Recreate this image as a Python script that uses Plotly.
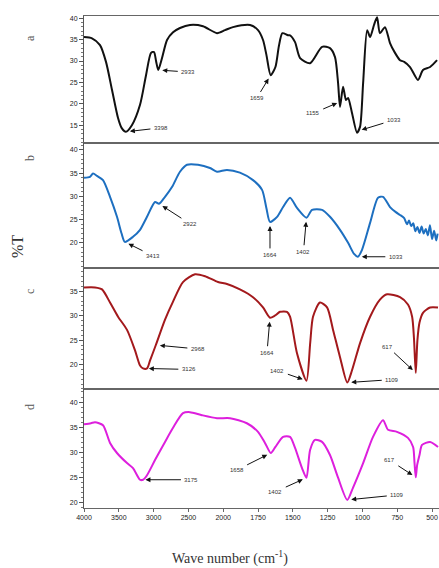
import numpy as np
import plotly.graph_objects as go
from plotly.subplots import make_subplots

# ---- FTIR spectra: wavenumber (cm-1) and transmittance (%T) ----
wn_a = [4000, 3885, 3770, 3684, 3598, 3511, 3460, 3398, 3310, 3195, 3109, 3037, 2994, 2965,
        2933, 2879, 2807, 2721, 2621, 2477, 2290, 2089, 1987, 1930, 1807, 1750, 1714, 1690,
        1659, 1625, 1600, 1575, 1535, 1520, 1484, 1448, 1376, 1290, 1233, 1197, 1175, 1161,
        1139, 1118, 1103, 1075, 1039, 1017, 995, 966, 945, 917, 895, 874, 838, 802, 766, 730,
        700, 658, 601, 565, 514, 464]
t_a = [35.6, 35.3, 33.7, 29.8, 23.3, 16.7, 14.4, 13.5, 15.1, 19.8, 26.7, 31.9, 32.1, 30.0,
       27.9, 30.7, 34.9, 36.7, 37.7, 38.4, 38.1, 36.5, 37.2, 37.9, 38.4, 37.2, 34.9, 31.5,
       26.7, 28.6, 33.5, 36.5, 36.0, 36.0, 34.4, 30.7, 29.5, 33.3, 33.0, 30.9, 24.9, 19.3,
       24.0, 20.9, 21.4, 17.9, 13.3, 14.7, 24.9, 37.2, 35.6, 38.4, 40.2, 36.5, 37.9, 34.2, 31.9, 30.2,
       29.8, 28.6, 25.6, 27.9, 28.6, 30.2]

wn_b = [4000, 3914, 3870, 3813, 3727, 3626, 3526, 3460, 3413, 3296, 3195, 3095, 2980, 2922,
        2836, 2736, 2621, 2520, 2362, 2190, 2089, 1973, 1880, 1786, 1721, 1690, 1664, 1613,
        1570, 1520, 1470, 1402, 1362, 1290, 1233, 1161, 1103, 1060, 1033, 1003, 945, 888, 852,
        802, 760, 730, 700, 680, 665, 650, 635, 620, 605, 590, 575, 560, 545, 530, 515, 500,
        485, 470, 460]
t_b = [34.0, 34.2, 34.9, 34.4, 33.5, 29.9, 25.6, 22.0, 20.2, 21.3, 22.8, 25.6, 28.8, 28.4,
       29.9, 32.0, 35.3, 36.8, 36.8, 36.1, 35.3, 35.7, 35.1, 33.5, 31.4, 27.5, 24.5, 25.6,
       27.7, 29.7, 27.5, 25.4, 27.1, 27.1, 25.6, 22.8, 20.0, 17.6, 17.0, 18.5, 24.3, 29.7, 29.9,
       27.7, 26.6, 26.0, 25.3, 24.0, 24.8, 23.6, 24.2, 22.5, 23.4, 22.1, 23.5, 22.0, 23.0, 21.6, 23.8, 20.8,
       22.6, 20.5, 22.0]

wn_c = [4000, 3842, 3741, 3626, 3511, 3382, 3267, 3195, 3152, 3095, 3052, 2968, 2836, 2721,
        2578, 2405, 2261, 2075, 1973, 1880, 1786, 1714, 1664, 1630, 1592, 1542, 1520, 1470,
        1402, 1375, 1355, 1305, 1254, 1211, 1161, 1109, 1075, 1017, 945, 874, 823, 730, 673,
        643, 630, 617, 605, 590, 565, 514, 457]
t_c = [35.8, 35.8, 35.4, 32.7, 29.8, 27.1, 22.9, 19.8, 19.2, 19.2, 20.8, 24.0, 29.2, 32.9,
       36.9, 38.5, 38.1, 36.9, 36.5, 35.4, 33.8, 31.7, 29.6, 30.0, 30.8, 30.8, 29.8, 22.3,
       16.7, 24.5, 29.8, 32.7, 31.7, 27.1, 21.5, 16.3, 18.8, 24.4, 29.8, 33.3, 34.4, 33.8, 32.3,
       29.8, 25.5, 18.3, 25.0, 28.6, 30.6, 31.7, 31.7]

wn_d = [4000, 3900, 3842, 3727, 3626, 3526, 3382, 3296, 3195, 3152, 3095, 2980, 2836, 2721,
        2578, 2477, 2305, 2089, 1951, 1830, 1750, 1700, 1658, 1625, 1570, 1520, 1484, 1434,
        1402, 1376, 1341, 1290, 1233, 1175, 1109, 1068, 995, 924, 852, 816, 752, 673, 636,
        626, 617, 607, 590, 572, 514, 457]
t_d = [35.6, 35.8, 36.0, 35.4, 31.9, 29.9, 27.9, 26.9, 24.6, 24.6, 25.5, 28.5, 32.1, 34.9,
       37.8, 38.0, 37.4, 36.8, 36.8, 35.8, 34.1, 31.9, 29.9, 31.1, 33.1, 33.1, 30.9, 26.9,
       25.0, 30.5, 32.5, 32.1, 29.5, 25.0, 20.6, 23.0, 27.9, 33.1, 36.4, 34.5, 34.1, 32.9, 31.1,
       28.0, 25.1, 27.5, 29.5, 31.5, 32.1, 31.1]

# marked band positions (cm-1) per spectrum
peaks_a = [3398, 2933, 1659, 1155, 1033]
peaks_b = [3413, 2922, 1664, 1402, 1033]
peaks_c = [3126, 2968, 1664, 1402, 1109, 617]
peaks_d = [3175, 1658, 1402, 1109, 617]

tick_wn = [4000, 3500, 3000, 2500, 2000, 1750, 1500, 1250, 1000, 750, 500]
y_ticks = [[15, 20, 25, 30, 35, 40], [20, 25, 30, 35, 40], [20, 25, 30, 35], [20, 25, 30, 35, 40]]
panel_names = ["a", "b", "c", "d"]


def axis_pos(w):
    """Split wavenumber scale: 500 cm-1 per division above 2000, 250 below."""
    w = np.asarray(w, dtype=float)
    return np.where(w >= 2000, (4000 - w) / 500.0, 4.0 + (2000 - w) / 250.0)


# label offsets (px) of each band label relative to its arrow head
label_offsets = [
    [(35, -4), (30, 2), (-14, 23), (-28, 12), (36, -11)],
    [(28, 14), (31, 20), (0, 33), (-3, 34), (38, 0)],
    [(44, 1), (42, 4), (-3, 35), (-29, -10), (45, -3), (-28, -26)],
    [(50, 0), (-34, 17), (-31, 14), (50, -5), (-26, -17)],
]

spectra = [(wn_a, t_a, "#111111"), (wn_b, t_b, "#1d6fc0"),
           (wn_c, t_c, "#a3191c"), (wn_d, t_d, "#dd1fdd")]
peak_sets = [peaks_a, peaks_b, peaks_c, peaks_d]
y_ranges = [[10.9, 40.5], [14.6, 41.5], [15.0, 39.8], [19.0, 42.6]]
domains = [[0.742, 1.0], [0.488, 0.742], [0.242, 0.488], [0.0, 0.242]]

fig = make_subplots(rows=4, cols=1, shared_xaxes=True, vertical_spacing=0)

tick_font = dict(family="Liberation Sans", size=7, color="#222222")

for i, (wn, tr, color) in enumerate(spectra):
    row = i + 1
    fig.add_trace(go.Scatter(x=axis_pos(wn), y=tr, mode="lines",
                             line=dict(color=color, width=2, shape="spline", smoothing=0.7),
                             showlegend=False, hoverinfo="skip"), row=row, col=1)
    yname = "yaxis" if i == 0 else f"yaxis{row}"
    xname = "xaxis" if i == 0 else f"xaxis{row}"
    fig.layout[yname].update(domain=domains[i], range=y_ranges[i],
                             tickvals=y_ticks[i], ticktext=[str(v) for v in y_ticks[i]],
                             showline=True, linecolor="#555555", linewidth=1,
                             ticks="outside", ticklen=4, tickcolor="#555555",
                             minor=dict(ticks="outside", dtick=1, ticklen=2, tickcolor="#777777"),
                             showgrid=False, zeroline=False, tickfont=tick_font)
    fig.layout[xname].update(range=[0, 10.2], showline=True, linecolor="#666666",
                             linewidth=1, mirror=True, showgrid=False, zeroline=False,
                             tickvals=list(axis_pos(tick_wn)), ticktext=[str(t) for t in tick_wn],
                             showticklabels=(i == 3), ticks="outside" if i == 3 else "",
                             ticklen=3, tickcolor="#666666", tickfont=tick_font)

    # band annotations with arrows
    wn_sorted = np.array(wn)[::-1]
    tr_sorted = np.array(tr)[::-1]
    xref = "x" if i == 0 else f"x{row}"
    yref = "y" if i == 0 else f"y{row}"
    for p, (dx, dy) in zip(peak_sets[i], label_offsets[i]):
        head_y = float(np.interp(p, wn_sorted, tr_sorted))
        fig.add_annotation(x=float(axis_pos(p)), y=head_y, xref=xref, yref=yref,
                           text=str(p), showarrow=True, ax=dx, ay=dy,
                           arrowhead=2, arrowsize=1, arrowwidth=1, arrowcolor="#111111",
                           standoff=4, startstandoff=2,
                           font=dict(family="Liberation Sans", size=6, color="#333333"))


def paper_xy(px, py):
    # convert figure pixels to paper coordinates of the plotting area
    return (px - 84) / 355, (508 - py) / 492


# panel letters
letter_y = [38, 158, 292, 407]
for name, py in zip(panel_names, letter_y):
    lx, ly = paper_xy(30, py)
    fig.add_annotation(x=lx, y=ly, xref="paper", yref="paper", xanchor="center", yanchor="middle",
                       text=name, showarrow=False, textangle=-90,
                       font=dict(family="Liberation Serif", size=12, color="#555555"))

lx, ly = paper_xy(17, 247)
fig.add_annotation(x=lx, y=ly, xref="paper", yref="paper", xanchor="center", yanchor="middle",
                   text="%T", showarrow=False, textangle=-90,
                   font=dict(family="Liberation Serif", size=16, color="#333333"))
lx, ly = paper_xy(230, 557)
fig.add_annotation(x=lx, y=ly, xref="paper", yref="paper", xanchor="center", yanchor="middle",
                   text="Wave number (cm<sup>-1</sup>)", showarrow=False,
                   font=dict(family="Liberation Serif", size=14, color="#333333"))

fig.update_layout(width=439, height=568, margin=dict(l=84, r=0, t=16, b=60),
                  plot_bgcolor="white", paper_bgcolor="white")

fig.write_html("out.html")
